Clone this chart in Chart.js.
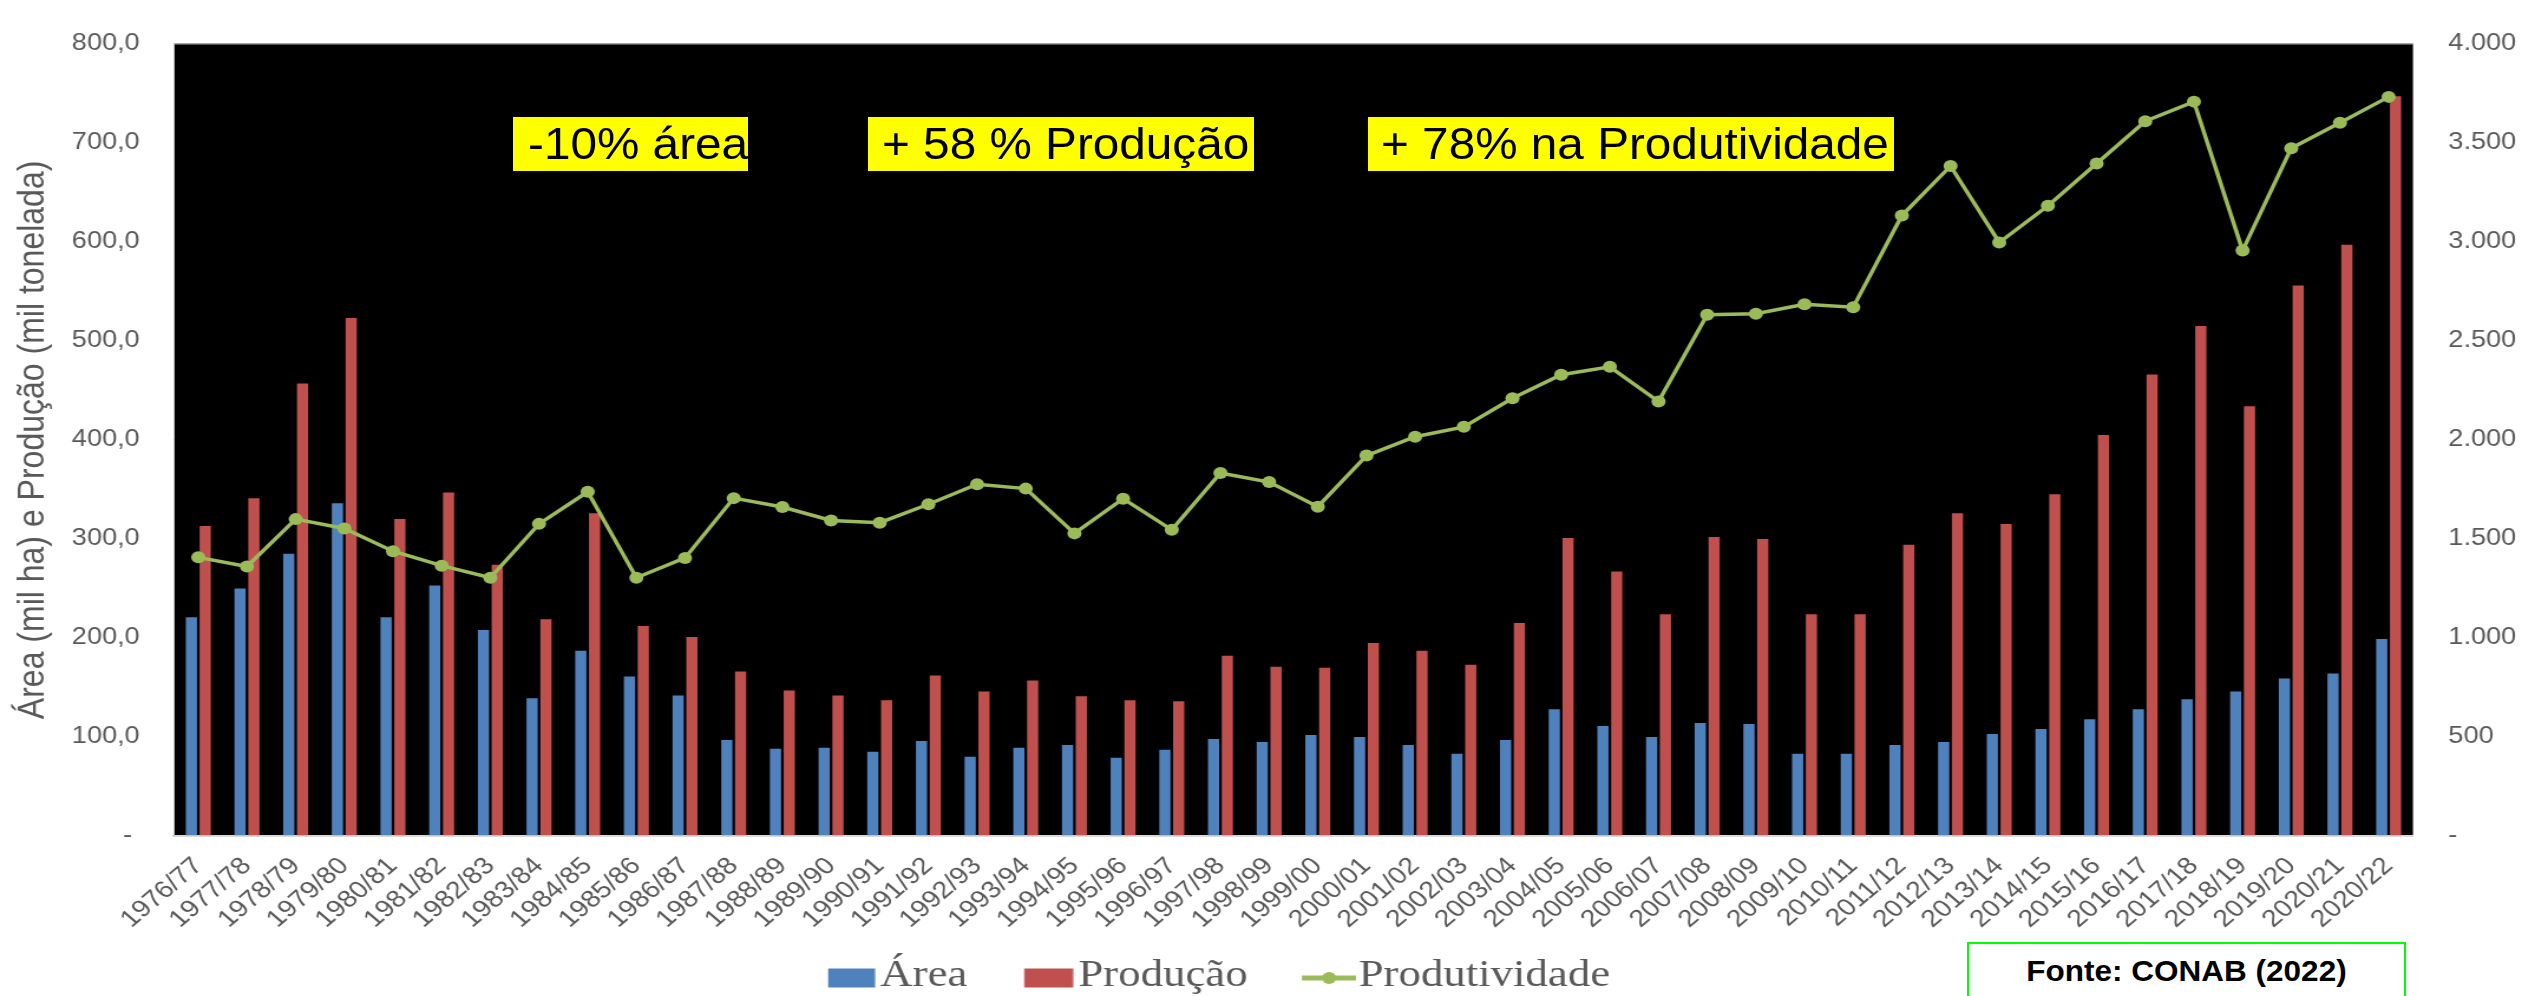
<!DOCTYPE html>
<html>
<head>
<meta charset="utf-8">
<script src="https://cdn.jsdelivr.net/npm/chart.js@4.4.1/dist/chart.umd.min.js"></script>
<style>
html, body { margin: 0; padding: 0; background: #ffffff; width: 2522px; height: 996px; overflow: hidden; }
#wrap { position: absolute; left: 0; top: 0; width: 2137px; height: 996px; transform: scaleX(1.18016); transform-origin: 0 0; }
#c { display: block; }
.tag { position: absolute; top: 117px; height: 54px; background: #ffff00; color: #000; font-family: 'Liberation Sans', Arial, sans-serif; font-size: 45px; line-height: 54px; white-space: nowrap; box-sizing: border-box; }
.tag span { display: inline-block; transform: scaleX(1.06); transform-origin: 0 50%; }
#fonte { position: absolute; left: 1967px; top: 942px; width: 439px; height: 80px; box-sizing: border-box; border: 2px solid #00ff00; background: #fff; text-align: center; font-family: 'Liberation Sans', Arial, sans-serif; font-weight: bold; font-size: 30px; line-height: 34px; padding-top: 10px; color: #000; }
#fonte span { display: inline-block; transform: scaleX(1.05); transform-origin: 50% 50%; }
</style>
</head>
<body>
<div id="wrap"><canvas id="c" width="2137" height="996" style="width:2137px;height:996px;"></canvas></div>
<div class="tag" style="left:513px;width:235px;padding-left:15px;"><span>-10% área</span></div>
<div class="tag" style="left:868px;width:386px;padding-left:14px;"><span>+ 58 % Produção</span></div>
<div class="tag" style="left:1368px;width:526px;padding-left:13px;"><span>+ 78% na Produtividade</span></div>
<div id="fonte"><span>Fonte: CONAB (2022)</span></div>
<script>
const categories = ['1976/77','1977/78','1978/79','1979/80','1980/81','1981/82','1982/83','1983/84','1984/85','1985/86',
  '1986/87','1987/88','1988/89','1989/90','1990/91','1991/92','1992/93','1993/94','1994/95','1995/96',
  '1996/97','1997/98','1998/99','1999/00','2000/01','2001/02','2002/03','2003/04','2004/05','2005/06',
  '2006/07','2007/08','2008/09','2009/10','2010/11','2011/12','2012/13','2013/14','2014/15','2015/16',
  '2016/17','2017/18','2018/19','2019/20','2020/21','2020/22'];
const areaValues = [221, 250, 285, 336, 221, 253, 208, 139, 187, 161,
  142, 97, 88, 89, 85, 96, 80, 89, 92, 79,
  87, 98, 95, 102, 100, 92, 83, 97, 128, 111,
  100, 114, 113, 83, 83, 92, 95, 103, 108, 118,
  128, 138, 146, 159, 164, 199];
const producaoValues = [313, 341, 457, 523, 320, 347, 274, 219, 326, 212,
  201, 166, 147, 142, 137, 162, 146, 157, 141, 137,
  136, 182, 171, 170, 195, 187, 173, 215, 301, 267,
  224, 302, 300, 224, 224, 294, 326, 315, 345, 405,
  466, 515, 434, 556, 597, 747];
const produtividadeValues = [1407, 1361, 1600, 1553, 1438, 1365, 1304, 1576, 1738, 1304,
  1404, 1706, 1661, 1593, 1582, 1675, 1776, 1754, 1528, 1703,
  1546, 1833, 1787, 1663, 1921, 2016, 2066, 2210, 2329, 2369,
  2194, 2632, 2637, 2685, 2670, 3133, 3383, 2997, 3182, 3396,
  3609, 3708, 2956, 3473, 3601, 3732];
const leftTickLabels = ['- ', '100,0', '200,0', '300,0', '400,0', '500,0', '600,0', '700,0', '800,0'];
const rightTickLabels = ['-', '500', '1.000', '1.500', '2.000', '2.500', '3.000', '3.500', '4.000'];
const seriesNames = ['Área', 'Produção', 'Produtividade'];
const leftAxisTitle = 'Área (mil ha) e Produção (mil tonelada)';

const BLUE = '#4F81BD', RED = '#C0504D', GREEN = '#9BBB59', GREY = '#595959';
const CW = 2137;            // canvas drawing width (stretched to 2522 on the page)
const PLOT_L = 147.4, PLOT_R = 2044.6;
const LEG_P = 20, LEG_W = 55, IMG_W = LEG_W + 34;

Chart.defaults.font.family = "'Liberation Sans', Arial, sans-serif";

function legendImage(kind, color, w) {
  const c = document.createElement('canvas');
  c.width = IMG_W; c.height = 24;
  const g = c.getContext('2d');
  g.fillStyle = color; g.strokeStyle = color;
  if (kind === 'box') {
    g.fillRect(IMG_W - 2.3 - w, 4.5, w, 19);
  } else {
    g.lineWidth = 5;
    g.beginPath(); g.moveTo(IMG_W - 46, 14); g.lineTo(IMG_W, 14); g.stroke();
    g.beginPath(); g.arc(IMG_W - 23, 14, 6, 0, Math.PI * 2); g.fill();
  }
  return c;
}
const legendImages = [legendImage('box', BLUE, 39.8), legendImage('box', RED, 41.5), legendImage('line', GREEN, 46)];

const plotBackground = {
  id: 'plotBackground',
  beforeDraw(chart) {
    const {ctx, chartArea: a} = chart;
    ctx.save();
    ctx.fillStyle = '#000000';
    ctx.fillRect(a.left, a.top, a.right - a.left, a.bottom - a.top);
    ctx.restore();
  }
};
const legendPlace = {
  id: 'legendPlace',
  afterLayout(chart) {
    const L = chart.legend;
    if (!L || !L.lineWidths) return;
    const x0 = (L.left + LEG_P + L.right - L.lineWidths[0]) / 2;
    const shift = x0 - (745.8 - LEG_W - 19);
    L.left -= shift; L.right -= shift;
    L.top += 9; L.bottom += 9;
  }
};

new Chart(document.getElementById('c'), {
  data: {
    labels: categories,
    datasets: [
      { type: 'bar', label: seriesNames[0], data: areaValues, backgroundColor: BLUE, borderWidth: 0,
        yAxisID: 'y', order: 1, categoryPercentage: 0.567, barPercentage: 0.81 },
      { type: 'bar', label: seriesNames[1], data: producaoValues, backgroundColor: RED, borderWidth: 0,
        yAxisID: 'y', order: 1, categoryPercentage: 0.567, barPercentage: 0.81 },
      { type: 'line', label: seriesNames[2], data: produtividadeValues, borderColor: GREEN, backgroundColor: GREEN,
        borderWidth: 3.5, pointRadius: 6, pointBackgroundColor: GREEN, pointBorderWidth: 0, tension: 0,
        yAxisID: 'y1', order: 0 }
    ]
  },
  options: {
    responsive: false, maintainAspectRatio: false, animation: false, devicePixelRatio: 1,
    layout: { padding: { top: 24, bottom: 0, left: 0, right: 0 } },
    plugins: {
      tooltip: { enabled: false },
      legend: {
        position: 'bottom',
        labels: {
          usePointStyle: true, pointStyleWidth: LEG_W, padding: LEG_P, color: GREY,
          font: { family: "'Liberation Serif', 'Times New Roman', serif", size: 38 },
          generateLabels: chart => chart.data.datasets.map((ds, i) => ({
            text: ds.label, pointStyle: legendImages[i], fillStyle: ds.backgroundColor,
            strokeStyle: ds.backgroundColor, lineWidth: 0, hidden: false, datasetIndex: i, fontColor: GREY
          }))
        }
      }
    },
    scales: {
      x: {
        grid: { display: false, drawTicks: false },
        border: { display: true, color: '#d9d9d9', width: 2 },
        ticks: { autoSkip: false, minRotation: 45, maxRotation: 45, padding: 16, color: GREY, font: { size: 24 } },
        afterFit: s => { s.height = 92; }
      },
      y: {
        position: 'left', min: 0, max: 800,
        grid: { drawTicks: false, lineWidth: 1.5, color: c => (c.tick && c.tick.value === 800) ? '#a6a6a6' : 'rgba(0,0,0,0)' },
        border: { display: true, color: '#bfbfbf', width: 1 },
        ticks: { stepSize: 100, padding: 29, color: GREY, font: { size: 23 }, callback: (v, i) => leftTickLabels[i] },
        title: { display: true, text: leftAxisTitle, color: GREY, font: { size: 32 }, padding: { top: 9, bottom: 0 } },
        afterFit: s => { s.width = PLOT_L; }
      },
      y1: {
        position: 'right', min: 0, max: 4000,
        grid: { display: false, drawTicks: false },
        border: { display: false },
        ticks: { stepSize: 500, padding: 30, color: GREY, font: { size: 23 }, callback: (v, i) => rightTickLabels[i] },
        afterFit: s => { s.width = CW - PLOT_R; }
      }
    }
  },
  plugins: [plotBackground, legendPlace]
});
</script>
</body>
</html>
